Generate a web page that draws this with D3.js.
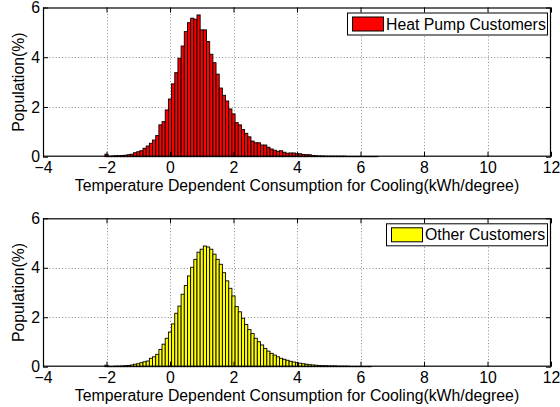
<html>
<head>
<meta charset="utf-8">
<title>cooling histograms</title>
<script src="https://d3js.org/d3.v7.min.js"></script>
<style>
  body { margin: 0; background: #fff; }
  svg text { font-family: "Liberation Sans", Arial, Helvetica, sans-serif; font-size: 15.8px; fill: #000; }
  .grid line { stroke: #8a8a8a; stroke-width: 1; stroke-dasharray: 1,2.2; }
  .axis path { display: none; }
  .axis line { stroke: #000; }
</style>
</head>
<body>
<svg id="chart" width="560" height="407"></svg>
<script>
// bins of width 0.1, centres from -2.0 to 6.5
const binWidth = 0.1;
const binCentres = d3.range(-20, 66).map(k => k / 10);

const heatPump = [
  0.10, 0.02, 0.03, 0.04, 0.04, 0.05, 0.06, 0.08, 0.10, 0.16,
  0.20, 0.24, 0.34, 0.43, 0.54, 0.67, 0.85, 1.28, 1.41, 1.88,
  2.32, 2.93, 3.38, 3.96, 4.45, 5.03, 5.39, 5.57, 5.53, 5.70,
  5.10, 5.10, 4.63, 4.12, 3.78, 3.32, 2.76, 2.47, 2.24, 1.92,
  1.72, 1.37, 1.28, 1.09, 0.94, 0.80, 0.63, 0.56, 0.56, 0.47,
  0.47, 0.38, 0.31, 0.26, 0.22, 0.24, 0.18, 0.14, 0.15, 0.15,
  0.12, 0.12, 0.09, 0.08, 0.08, 0.05, 0.04, 0.03, 0.03, 0.02,
  0.02, 0.02, 0.02, 0.02, 0.02, 0.02, 0.01, 0.01, 0.01, 0.01,
  0.01, 0.01, 0.01, 0.01, 0.01, 0.01
];

const others = [
  0.06, 0.01, 0.01, 0.02, 0.02, 0.03, 0.04, 0.05, 0.07, 0.10,
  0.12, 0.16, 0.20, 0.23, 0.34, 0.40, 0.50, 0.70, 0.91, 1.15,
  1.40, 1.73, 2.16, 2.45, 2.93, 3.28, 3.67, 4.02, 4.34, 4.63,
  4.75, 4.88, 4.84, 4.75, 4.55, 4.34, 4.14, 3.80, 3.47, 3.17,
  2.86, 2.43, 2.22, 1.96, 1.71, 1.50, 1.34, 1.15, 1.01, 0.88,
  0.74, 0.63, 0.54, 0.47, 0.40, 0.34, 0.30, 0.26, 0.22, 0.19,
  0.16, 0.14, 0.12, 0.10, 0.08, 0.07, 0.06, 0.05, 0.04, 0.04,
  0.03, 0.03, 0.03, 0.02, 0.02, 0.02, 0.02, 0.01, 0.01, 0.01,
  0.01, 0.01, 0.01, 0.01, 0.00, 0.00
];

const xTicks = [-4, -2, 0, 2, 4, 6, 8, 10, 12];
const yTicks = [0, 2, 4, 6];
const xLabel = "Temperature Dependent Consumption for Cooling(kWh/degree)";
const yLabel = "Population(%)";

const svg = d3.select("#chart");
const left = 43, right = 551;
const fmt = d3.format("d");

const x = d3.scaleLinear().domain([-4, 12]).range([left, right]);

function drawPanel(values, top, bottom, colour, name, legendX) {
  const y = d3.scaleLinear().domain([0, 6]).range([bottom, top]);
  const g = svg.append("g");
  const h = bottom - top, w = right - left;

  // dotted grid
  const grid = g.append("g").attr("class", "grid");
  grid.selectAll(".gx").data(xTicks.slice(1, -1)).join("line")
    .attr("x1", d => Math.round(x(d)) + 0.5).attr("x2", d => Math.round(x(d)) + 0.5)
    .attr("y1", top).attr("y2", bottom);
  grid.selectAll(".gy").data(yTicks.slice(1, -1)).join("line")
    .attr("y1", d => Math.round(y(d)) + 0.5).attr("y2", d => Math.round(y(d)) + 0.5)
    .attr("x1", left).attr("x2", right);

  // bars
  const bins = binCentres.map((c, i) => ({ c: c, v: values[i] })).filter(d => d.v > 0);
  g.append("g").selectAll("rect").data(bins).join("rect")
    .attr("x", d => x(d.c - binWidth / 2))
    .attr("width", d => x(d.c + binWidth / 2) - x(d.c - binWidth / 2))
    .attr("y", d => y(d.v))
    .attr("height", d => y(0) - y(d.v))
    .attr("fill", colour)
    .attr("stroke", "#000")
    .attr("stroke-width", 0.9);

  // ticks, pointing inwards on all four sides
  g.append("g").attr("class", "axis").attr("transform", "translate(0," + bottom + ")")
    .call(d3.axisBottom(x).tickValues(xTicks).tickFormat(fmt).tickSizeInner(-5).tickSizeOuter(0).tickPadding(5));
  g.append("g").attr("class", "axis").attr("transform", "translate(0," + top + ")")
    .call(d3.axisTop(x).tickValues(xTicks).tickSizeInner(-5).tickSizeOuter(0).tickFormat(""));
  g.append("g").attr("class", "axis").attr("transform", "translate(" + left + ",0)")
    .call(d3.axisLeft(y).tickValues(yTicks).tickFormat(fmt).tickSizeInner(-5).tickSizeOuter(0).tickPadding(3));
  g.append("g").attr("class", "axis").attr("transform", "translate(" + right + ",0)")
    .call(d3.axisRight(y).tickValues(yTicks).tickSizeInner(-5).tickSizeOuter(0).tickFormat(""));
  svg.selectAll(".axis").attr("font-family", null).attr("font-size", null);
  svg.selectAll(".axis text").attr("fill", "#000");

  // frame
  g.append("rect")
    .attr("x", left + 0.5).attr("y", top + 0.5)
    .attr("width", w - 1).attr("height", h - 1)
    .attr("fill", "none").attr("stroke", "#000").attr("stroke-width", 1.2);

  // labels
  g.append("text")
    .attr("x", (left + right) / 2).attr("y", bottom + 34)
    .attr("text-anchor", "middle")
    .text(xLabel);
  g.append("text")
    .attr("transform", "translate(24," + (top + bottom) / 2 + ") rotate(-90)")
    .attr("text-anchor", "middle")
    .text(yLabel);

  // legend
  const legend = g.append("g").attr("transform", "translate(" + legendX + "," + (top + 5) + ")");
  legend.append("rect")
    .attr("x", 0.5).attr("y", 0.5)
    .attr("width", right - 4 - legendX).attr("height", 22)
    .attr("fill", "#fff").attr("stroke", "#000");
  legend.append("rect")
    .attr("x", 5.5).attr("y", 4.5).attr("width", 31).attr("height", 14)
    .attr("fill", colour).attr("stroke", "#000");
  legend.append("text")
    .attr("x", 39).attr("y", 17)
    .text(name);
}

drawPanel(heatPump, 7.5, 156.7, "#ff0000", "Heat Pump Customers", 347);
drawPanel(others, 218.3, 366.7, "#ffff00", "Other Customers", 386);
</script>
</body>
</html>
